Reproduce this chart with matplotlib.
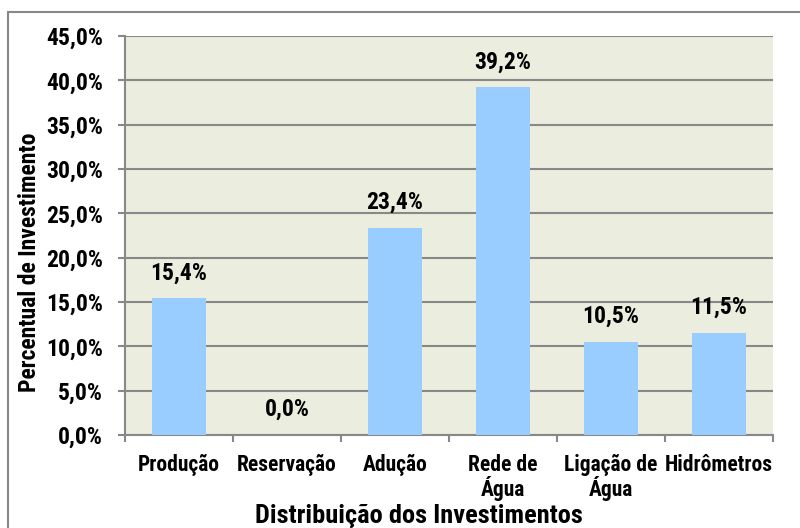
import matplotlib
matplotlib.use("Agg")
import matplotlib.pyplot as plt
from matplotlib.patches import Rectangle
from matplotlib.ticker import FuncFormatter, MultipleLocator
import numpy as np

categories = ["Produção", "Reservação", "Adução", "Rede de\nÁgua", "Ligação de\nÁgua", "Hidrômetros"]
values = [15.4, 0.0, 23.4, 39.2, 10.5, 11.5]

plt.rcParams["font.family"] = ["Roboto Condensed", "Archivo Narrow", "DejaVu Sans"]
plt.rcParams["font.weight"] = "bold"

W, H = 800, 528
fig = plt.figure(figsize=(W / 100, H / 100), dpi=100)
ax = fig.add_axes([125 / W, (H - 435) / H, 648 / W, 399 / H])
ax.set_facecolor("#EBEEDE")

x = np.arange(len(categories))
bars = ax.bar(x, values, width=0.5, color="#99CCFF", zorder=3)

def pct(v, pos=None):
    return f"{v:.1f}%".replace(".", ",")

# rótulos acima das barras
for b, v in zip(bars, values):
    ax.annotate(pct(v), (b.get_x() + b.get_width() / 2, v), xytext=(0, 10),
                textcoords="offset points", ha="center", va="bottom",
                fontsize=17, fontweight="bold")

ax.set_xlim(-0.5, len(categories) - 0.5)
ax.set_ylim(0, 45)
ax.yaxis.set_major_locator(MultipleLocator(5))
ax.yaxis.set_major_formatter(FuncFormatter(pct))
ax.grid(axis="y", color="#888888", linewidth=1.5, zorder=0)

ax.set_xticks(x)
ax.set_xticklabels(categories, linespacing=1.0)
ax.set_xticks(np.arange(-0.5, len(categories)), minor=True)
ax.tick_params(axis="x", which="major", length=0, pad=13.5, labelsize=15.5)
ax.tick_params(axis="x", which="minor", length=5, width=1.5, color="#888888")
ax.tick_params(axis="y", length=5, width=1.5, color="#888888", pad=11, labelsize=17)

for s in ["top", "right"]:
    ax.spines[s].set_visible(False)
for s in ["left", "bottom"]:
    ax.spines[s].set_color("#888888")
    ax.spines[s].set_linewidth(1.5)

fig.text(30 / W, 1 - 262 / H, "Percentual de Investimento", rotation=90,
         ha="center", va="center", fontsize=17, fontweight="bold")
fig.text(419 / W, 1 - 516 / H, "Distribuição dos Investimentos",
         ha="center", va="center", fontsize=19, fontweight="bold")

# moldura externa do gráfico
fig.patches.append(Rectangle((8 / W, -0.05), 1.2, 1.05 - 12 / H, transform=fig.transFigure,
                             fill=False, edgecolor="#888888", linewidth=1.5))

fig.savefig("out.png", dpi=100)
